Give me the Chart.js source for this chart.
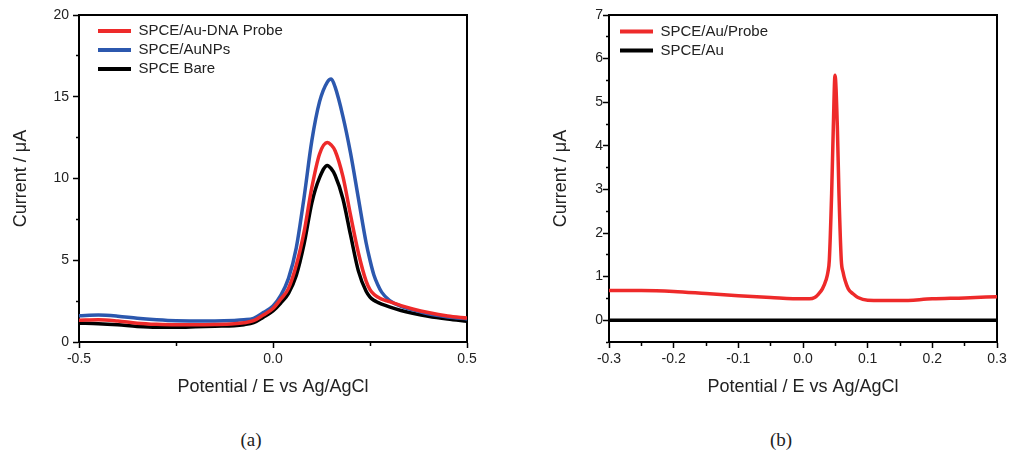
<!DOCTYPE html>
<html>
<head>
<meta charset="utf-8">
<script src="https://cdn.jsdelivr.net/npm/chart.js@4.4.0/dist/chart.umd.min.js"></script>
<style>
  html, body { margin: 0; padding: 0; background: #fff; }
  #wrap { position: relative; width: 1013px; height: 463px; }
  .panel { position: absolute; top: 0; height: 400px; }
  #panelA { left: 0; width: 506px; }
  #panelB { left: 506px; width: 507px; }
  .caption { position: absolute; top: 429px; width: 60px; margin-left: -30px; text-align: center;
             font: 19px 'Liberation Serif', 'Times New Roman', serif; color: #222; }
</style>
</head>
<body>
<div id="wrap">
  <div class="panel" id="panelA"><canvas id="chartA"></canvas></div>
  <div class="panel" id="panelB"><canvas id="chartB"></canvas></div>
  <div class="caption" style="left:251px">(a)</div>
  <div class="caption" style="left:781px">(b)</div>
</div>
<script>
// ---- data: panel (a) ----
const potentialA = [-0.5, -0.45, -0.4, -0.35, -0.3, -0.25, -0.2, -0.15, -0.1, -0.075, -0.05, -0.025, 0, 0.02, 0.04, 0.06, 0.08, 0.1, 0.12, 0.14, 0.15, 0.16, 0.18, 0.2, 0.22, 0.24, 0.25, 0.26, 0.27, 0.28, 0.3, 0.33, 0.36, 0.4, 0.45, 0.5];
const dnaProbe = [1.33, 1.36, 1.28, 1.15, 1.08, 1.05, 1.05, 1.07, 1.12, 1.18, 1.3, 1.65, 2.05, 2.62, 3.28, 4.69, 6.72, 9.44, 11.5, 12.2, 12.05, 11.7, 10.14, 7.74, 5.46, 3.72, 3.2, 2.92, 2.75, 2.62, 2.47, 2.22, 2.02, 1.8, 1.59, 1.46];
const auNPs = [1.6, 1.65, 1.58, 1.45, 1.36, 1.3, 1.29, 1.29, 1.32, 1.36, 1.45, 1.8, 2.2, 2.85, 3.89, 5.76, 8.83, 12.3, 14.7, 15.9, 16.08, 15.6, 13.82, 11.54, 8.8, 6.07, 5.0, 4.1, 3.5, 3.05, 2.55, 2.18, 1.97, 1.72, 1.53, 1.41];
const bare = [1.15, 1.12, 1.05, 0.95, 0.9, 0.9, 0.93, 0.97, 1.0, 1.06, 1.18, 1.52, 1.9, 2.38, 2.98, 4.07, 5.98, 8.5, 10.05, 10.8, 10.6, 10.2, 8.78, 6.53, 4.35, 3.1, 2.75, 2.55, 2.42, 2.32, 2.15, 1.93, 1.76, 1.57, 1.4, 1.27];
const labelsA = ['SPCE/Au-DNA Probe', 'SPCE/AuNPs', 'SPCE Bare'];

// ---- data: panel (b) ----
const potentialB = [-0.3, -0.25, -0.2, -0.15, -0.1, -0.05, 0, 0.01, 0.018, 0.024, 0.03, 0.0356, 0.0385, 0.0407, 0.0443, 0.0469, 0.0495, 0.0531, 0.0556, 0.0592, 0.062, 0.0649, 0.07, 0.0778, 0.085, 0.1, 0.15, 0.2, 0.25, 0.3];
const auProbe = [0.68, 0.68, 0.66, 0.61, 0.56, 0.52, 0.49, 0.49, 0.52, 0.6, 0.72, 0.92, 1.1, 1.38, 2.91, 4.44, 5.62, 4.44, 2.91, 1.38, 1.1, 0.92, 0.72, 0.6, 0.52, 0.46, 0.45, 0.49, 0.51, 0.54];
const potentialAu = [-0.3, -0.2, -0.1, 0, 0.1, 0.2, 0.3];
const auOnly = [0, 0, 0, 0, 0, 0, 0];
const labelsB = ['SPCE/Au/Probe', 'SPCE/Au'];

const RED = '#ee2a2a';
const BLUE = '#2c58ae';
const BLACK = '#000000';
const FONT = "'Liberation Sans', Arial, sans-serif";
const TEXT = '#222222';

function pts(xs, ys) {
    return xs.map((x, i) => ({ x: x, y: ys[i] }));
}

function onStep(v, step) {
    const r = v / step;
    return Math.abs(r - Math.round(r)) < 1e-6;
}

function line(label, data, color) {
    return {
        label: label,
        data: data,
        borderColor: color,
        backgroundColor: color,
        borderWidth: 3.5,
        pointRadius: 0,
        cubicInterpolationMode: 'monotone',
        fill: false
    };
}

// full black frame round the plot area (axes only draw their own side)
const framePlugin = {
    id: 'frame',
    beforeDatasetsDraw(chart) {
        const { ctx, chartArea: a } = chart;
        ctx.save();
        ctx.strokeStyle = '#000';
        ctx.lineWidth = 2;
        ctx.strokeRect(a.left, a.top, a.right - a.left, a.bottom - a.top);
        ctx.restore();
    }
};

// move the in-plot legend a little away from the corner
const legendOffset = {
    id: 'legendOffset',
    afterLayout(chart, args, opts) {
        const lg = chart.legend;
        if (!lg) return;
        lg.left = chart.chartArea.left + opts.x;
        lg.top = chart.chartArea.top + opts.y;
        lg.right = lg.left + lg.width;
        lg.bottom = lg.top + lg.height;
    }
};

// major ticks carry a label, minor ones get a shorter mark
function scaleX(min, max, step, major) {
    return {
        type: 'linear',
        min: min,
        max: max,
        afterFit: s => { s.height = 58; },
        border: { color: '#000', width: 2 },
        grid: {
            drawOnChartArea: false,
            tickLength: 6,
            tickColor: '#000',
            tickWidth: 1.5,
            tickBorderDash: c => (c.tick && !onStep(c.tick.value, major)) ? [3, 20] : []
        },
        ticks: {
            stepSize: step,
            autoSkip: false,
            maxRotation: 0,
            padding: 3,
            color: TEXT,
            font: { family: FONT, size: 14 },
            callback: v => onStep(v, major) ? v.toFixed(1) : ''
        },
        title: {
            display: true,
            text: 'Potential / E vs Ag/AgCl',
            color: TEXT,
            font: { family: FONT, size: 18 },
            padding: { top: 0, bottom: 2 }
        }
    };
}

function scaleY(min, max, step, major, width, titlePad, labelPad) {
    return {
        type: 'linear',
        min: min,
        max: max,
        afterFit: s => { s.width = width; },
        border: { color: '#000', width: 2 },
        grid: {
            drawOnChartArea: false,
            tickLength: 6,
            tickColor: '#000',
            tickWidth: 1.5,
            tickBorderDash: c => (c.tick && !onStep(c.tick.value, major)) ? [3, 3] : [],
            tickBorderDashOffset: c => (c.tick && !onStep(c.tick.value, major)) ? 3 : 0
        },
        ticks: {
            stepSize: step,
            autoSkip: false,
            padding: labelPad,
            color: TEXT,
            font: { family: FONT, size: 14 },
            callback: v => (onStep(v, major) && v >= 0) ? String(Math.round(v)) : ''
        },
        title: {
            display: true,
            text: 'Current / μA',
            color: TEXT,
            font: { family: FONT, size: 18 },
            padding: { top: titlePad, bottom: 0 }
        }
    };
}

function legendOpts() {
    return {
        position: 'chartArea',
        align: 'start',
        labels: {
            boxWidth: 33,
            boxHeight: 4,
            padding: 4,
            color: TEXT,
            font: { family: FONT, size: 15 },
            generateLabels: chart => Chart.defaults.plugins.legend.labels.generateLabels(chart)
                .map(l => Object.assign(l, { fillStyle: l.strokeStyle, lineWidth: 0 }))
        }
    };
}

window.addEventListener('DOMContentLoaded', () => {
    new Chart(document.getElementById('chartA'), {
        type: 'line',
        data: {
            datasets: [
                line(labelsA[0], pts(potentialA, dnaProbe), RED),
                line(labelsA[1], pts(potentialA, auNPs), BLUE),
                line(labelsA[2], pts(potentialA, bare), BLACK)
            ]
        },
        options: {
            responsive: true,
            maintainAspectRatio: false,
            animation: false,
            devicePixelRatio: 1,
            layout: { padding: { left: 0, right: 39, top: 15, bottom: 0 } },
            plugins: {
                legend: legendOpts(),
                legendOffset: { x: 15, y: 4.5 },
                tooltip: { enabled: false }
            },
            scales: {
                x: scaleX(-0.5, 0.5, 0.25, 0.5),
                y: scaleY(0, 20, 2.5, 5, 79, 10, 4)
            }
        },
        plugins: [framePlugin, legendOffset]
    });

    new Chart(document.getElementById('chartB'), {
        type: 'line',
        data: {
            datasets: [
                line(labelsB[0], pts(potentialB, auProbe), RED),
                line(labelsB[1], pts(potentialAu, auOnly), BLACK)
            ]
        },
        options: {
            responsive: true,
            maintainAspectRatio: false,
            animation: false,
            devicePixelRatio: 1,
            layout: { padding: { left: 0, right: 16, top: 15, bottom: 0 } },
            plugins: {
                legend: legendOpts(),
                legendOffset: { x: 7, y: 5 },
                tooltip: { enabled: false }
            },
            scales: {
                x: scaleX(-0.3, 0.3, 0.05, 0.1),
                y: scaleY(-0.5, 7, 0.5, 1, 103, 44, 0)
            }
        },
        plugins: [framePlugin, legendOffset]
    });
});
</script>
</body>
</html>
